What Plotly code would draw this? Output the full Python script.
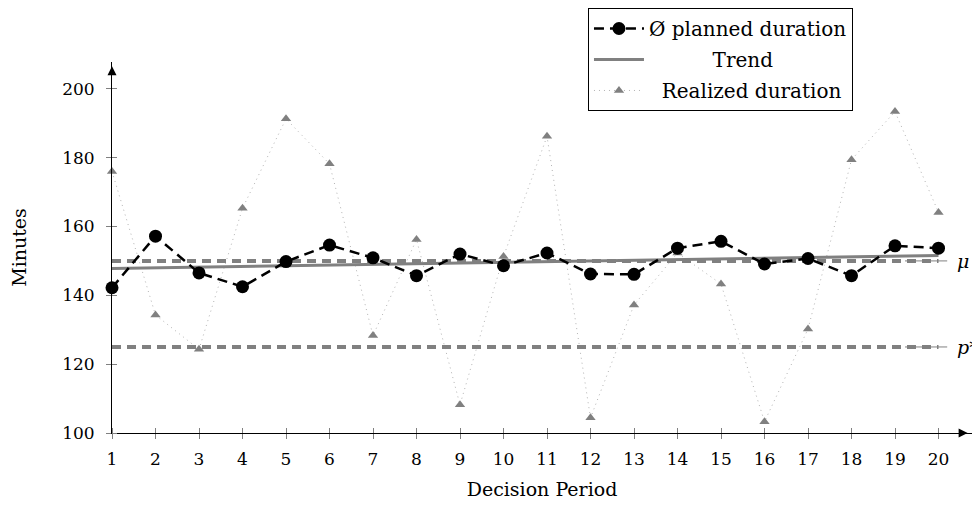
import plotly.graph_objects as go

periods = list(range(1, 21))
planned = [142.2, 157.2, 146.5, 142.5, 149.8, 154.6, 150.9, 145.7, 152.0, 148.6,
           152.3, 146.2, 146.1, 153.7, 155.7, 149.1, 150.7, 145.7, 154.4, 153.7]
realized = [176.0, 134.3, 124.3, 165.3, 191.3, 178.2, 128.3, 156.2, 108.2, 151.3,
            186.2, 104.4, 137.2, 152.3, 143.3, 103.3, 130.2, 179.4, 193.4, 164.1]
trend_x = [1, 20]
trend_y = [147.8, 151.6]
mu = 150
p_star = 125
x_ticks = list(range(1, 21))
y_ticks = [100, 120, 140, 160, 180, 200]
x_max = 20.77
y_max = 207.8

GRAY = "#808080"
FONT = "DejaVu Serif"
NB = "\u00a0"

fig = go.Figure()

fig.add_trace(go.Scatter(
    x=periods, y=realized, mode="lines+markers", name=NB * 2 + "Realized duration",
    line=dict(color="#b3b3b3", width=1, dash="1px,4px"),
    marker=dict(symbol="triangle-up", size=9, color=GRAY),
    legendgroup="c", legendrank=3, cliponaxis=False))

for val in (mu, p_star):
    fig.add_trace(go.Scatter(
        x=[19.23, 20.2], y=[val, val], mode="lines", showlegend=False,
        line=dict(color=GRAY, width=1), cliponaxis=False))
    fig.add_trace(go.Scatter(
        x=[periods[0], periods[-1]], y=[val, val], mode="lines", showlegend=False,
        line=dict(color=GRAY, width=4, dash="9px,6px"), cliponaxis=False))

fig.add_trace(go.Scatter(
    x=trend_x, y=trend_y, mode="lines", name=NB * 10 + "Trend",
    line=dict(color=GRAY, width=3), legendgroup="b", legendrank=2))

fig.add_trace(go.Scatter(
    x=periods, y=planned, mode="lines+markers", name="Ø planned duration",
    line=dict(color="black", width=2.5, dash="10px,6px"),
    marker=dict(symbol="circle", size=13, color="black"),
    legendgroup="a", legendrank=1, cliponaxis=False))

# axis arrow heads
fig.add_trace(go.Scatter(
    x=[x_max - 0.1], y=[100], mode="markers", showlegend=False, hoverinfo="skip",
    marker=dict(symbol="arrow-right", size=9, color="black"), cliponaxis=False))
fig.add_trace(go.Scatter(
    x=[1], y=[y_max - 1.2], mode="markers", showlegend=False, hoverinfo="skip",
    marker=dict(symbol="arrow-up", size=9, color="black"), cliponaxis=False))

fig.add_annotation(x=20.38, y=mu, xref="x", yref="y", text="<i>μ</i>",
                   showarrow=False, xanchor="left", font=dict(family=FONT, size=19, color="black"))
fig.add_annotation(x=20.38, y=p_star, xref="x", yref="y", text="<i>p</i>*",
                   showarrow=False, xanchor="left", font=dict(family=FONT, size=19, color="black"))

fig.update_layout(
    width=972, height=500,
    margin=dict(l=104, r=8, t=54, b=75, autoexpand=False),
    plot_bgcolor="white", paper_bgcolor="white",
    font=dict(family=FONT, size=17, color="black"),
    legend=dict(x=0.8616, y=1.1456, xanchor="right", yanchor="top",
                bordercolor="black", borderwidth=1, bgcolor="white",
                tracegroupgap=2, itemwidth=50, font=dict(size=20)),
    xaxis=dict(range=[1, x_max], tickvals=x_ticks, ticktext=[str(v) for v in x_ticks],
               showgrid=False, zeroline=False, showline=True, linecolor="black", linewidth=1,
               ticks="outside", ticklen=5, tickcolor=GRAY, ticklabelstandoff=6,
               minor=dict(tickvals=x_ticks, ticks="inside", ticklen=5, tickcolor=GRAY, showgrid=False),
               title=dict(text="Decision Period", standoff=14, font=dict(size=19))),
    yaxis=dict(range=[100, y_max], tickvals=y_ticks, ticktext=[str(v) for v in y_ticks],
               showgrid=False, zeroline=False, showline=True, linecolor="black", linewidth=1,
               ticks="outside", ticklen=5, tickcolor=GRAY, ticklabelstandoff=8,
               minor=dict(tickvals=y_ticks, ticks="inside", ticklen=5, tickcolor=GRAY, showgrid=False),
               title=dict(text="Minutes", standoff=32, font=dict(size=19))),
)

fig.write_html("out.html")
